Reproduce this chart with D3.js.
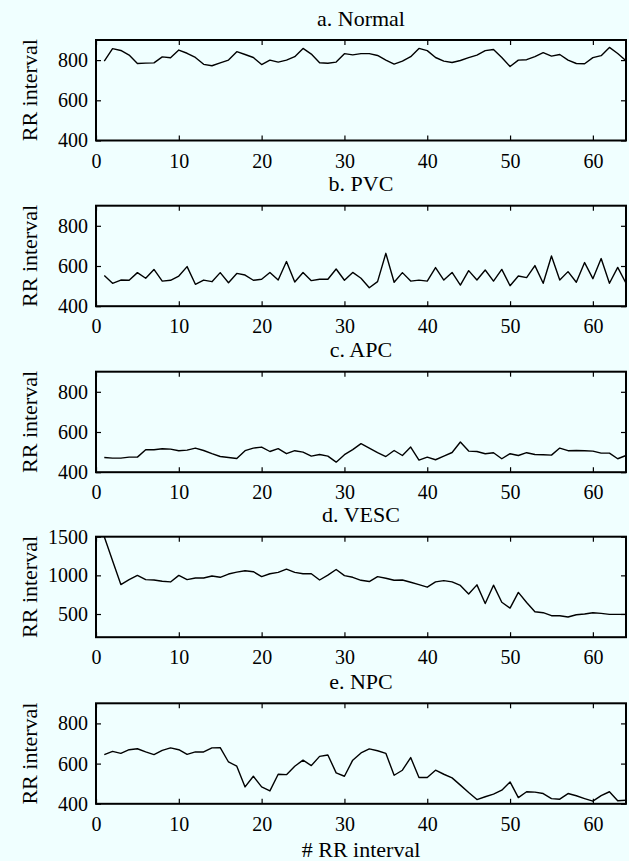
<!DOCTYPE html>
<html>
<head>
<meta charset="utf-8">
<script src="https://cdn.jsdelivr.net/npm/d3@7"></script>
<style>
  body { margin: 0; background: #f0ffff; }
  svg text { font-family: "Liberation Serif", "DejaVu Serif", serif !important; fill: #000; }
</style>
</head>
<body>
<svg id="fig"></svg>
<script>
// RR intervals (ms) for beats 1..64
const normal = [795, 857, 848, 825, 783, 785, 786, 816, 812, 850, 834, 813, 779, 772, 786, 800, 842, 828, 813, 778,
  800, 790, 800, 817, 858, 830, 787, 784, 790, 832, 826, 832, 832, 823, 800, 780, 795, 817, 858, 847,
  813, 795, 788, 798, 812, 825, 847, 853, 813, 768, 800, 802, 817, 837, 820, 828, 800, 783, 782, 812,
  822, 863, 833, 797];
const pvc = [553, 514, 530, 529, 567, 539, 583, 525, 529, 550, 597, 509, 530, 522, 567, 517, 563, 555, 529, 534,
  568, 530, 622, 520, 568, 527, 534, 534, 585, 529, 568, 539, 492, 522, 663, 519, 567, 525, 530, 525,
  592, 530, 568, 505, 577, 530, 580, 525, 583, 502, 550, 542, 602, 514, 650, 530, 572, 519, 617, 537,
  637, 514, 593, 514];
const apc = [473, 470, 470, 475, 475, 512, 512, 517, 515, 507, 510, 520, 508, 492, 478, 473, 468, 507, 520, 525,
  503, 517, 492, 507, 500, 480, 488, 480, 450, 487, 512, 542, 520, 497, 478, 508, 483, 525, 460, 475,
  462, 480, 498, 550, 505, 503, 492, 497, 467, 492, 483, 497, 488, 487, 485, 520, 507, 508, 507, 505,
  495, 495, 467, 483];
const vesc = [1500, 1190, 881, 945, 1000, 945, 940, 924, 915, 1000, 945, 966, 966, 992, 975, 1017, 1042, 1060, 1047, 983,
  1021, 1038, 1081, 1038, 1021, 1021, 940, 1004, 1076, 996, 975, 936, 920, 983, 962, 936, 940, 911, 881, 847,
  915, 932, 915, 869, 758, 877, 635, 873, 652, 576, 780, 648, 529, 517, 478, 478, 461, 491, 500, 517,
  508, 495, 495, 495];
const npc = [645, 661, 651, 669, 674, 658, 645, 666, 678, 669, 646, 658, 658, 678, 679, 608, 587, 484, 537, 484,
  464, 547, 545, 587, 617, 590, 636, 643, 554, 537, 617, 653, 673, 664, 651, 542, 567, 630, 531, 531,
  567, 547, 529, 493, 456, 421, 435, 448, 468, 509, 431, 460, 458, 451, 426, 423, 451, 440, 426, 413,
  441, 460, 415, 418];

const titles = ["a. Normal", "b. PVC", "c. APC", "d. VESC", "e. NPC"];
const series = [normal, pvc, apc, vesc, npc];
const xTicks = [0, 10, 20, 30, 40, 50, 60];
const yTicksA = [400, 600, 800];
const yTicksD = [500, 1000, 1500];
const yDomainA = [400, 900];
const yDomainD = [200, 1500];

const W = 629, H = 861;
const left = 96, right = 626;
const panelTops = [40, 205.7, 371.7, 536.7, 703.3];
const panelH = 100.5;

const svg = d3.select("#fig").attr("width", W).attr("height", H);

const x = d3.scaleLinear().domain([0, 64]).range([left, right]);

series.forEach((data, i) => {
  const top = panelTops[i];
  const bottom = top + panelH;
  const isVesc = i === 3;
  const y = d3.scaleLinear().domain(isVesc ? yDomainD : yDomainA).range([bottom, top]);
  const yt = isVesc ? yTicksD : yTicksA;
  const g = svg.append("g");

  // inward ticks on all four sides, labels only left/bottom
  g.append("g").attr("transform", `translate(0,${bottom})`)
    .call(d3.axisBottom(x).tickValues(xTicks).tickSize(-5).tickSizeOuter(0).tickPadding(13));
  g.append("g").attr("transform", `translate(0,${top})`)
    .call(d3.axisTop(x).tickValues(xTicks).tickSize(-5).tickSizeOuter(0).tickFormat(""));
  g.append("g").attr("transform", `translate(${left},0)`)
    .call(d3.axisLeft(y).tickValues(yt).tickSize(-5).tickSizeOuter(0).tickPadding(8).tickFormat(d3.format("d")));
  g.append("g").attr("transform", `translate(${right},0)`)
    .call(d3.axisRight(y).tickValues(yt).tickSize(-5).tickSizeOuter(0).tickFormat(""));

  g.selectAll(".domain").remove();
  g.selectAll(".tick line").attr("stroke", "#000").attr("stroke-width", 1.2);
  g.selectAll(".tick text").style("font-size", "20px");

  g.append("rect")
    .attr("x", left).attr("y", top)
    .attr("width", right - left).attr("height", panelH)
    .attr("fill", "none").attr("stroke", "#000").attr("stroke-width", 2);

  g.append("path")
    .datum(data)
    .attr("fill", "none")
    .attr("stroke", "#000")
    .attr("stroke-width", 1.4)
    .attr("stroke-linejoin", "round")
    .attr("d", d3.line().x((d, k) => x(k + 1)).y(d => y(d)));

  g.append("text")
    .attr("x", (left + right) / 2).attr("y", top - 22)
    .attr("dy", "0.35em")
    .attr("text-anchor", "middle")
    .style("font-size", "22px")
    .text(titles[i]);

  g.append("text")
    .attr("transform", `translate(29,${top + panelH / 2}) rotate(-90)`)
    .attr("dy", "0.35em")
    .attr("text-anchor", "middle")
    .style("font-size", "22px")
    .text("RR interval");
});

svg.append("text")
  .attr("x", (left + right) / 2).attr("y", 849)
  .attr("dy", "0.35em")
  .attr("text-anchor", "middle")
  .style("font-size", "22px")
  .text("# RR interval");
</script>
</body>
</html>
